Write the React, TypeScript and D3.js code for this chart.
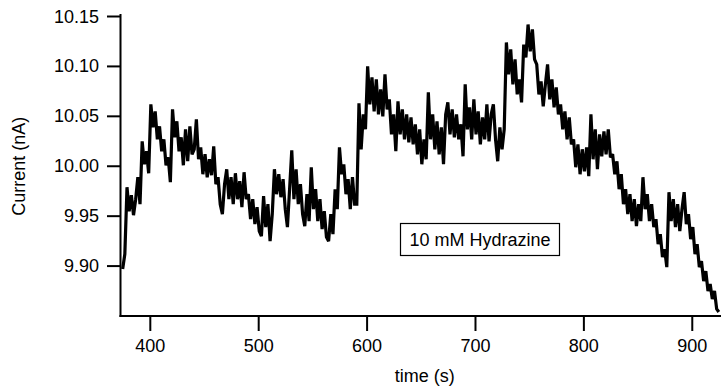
import React from "react";
import * as d3 from "d3";

// Amperometric trace: sampled every DT seconds starting at T0 (wave scaling)
const T0 = 374.5;
const DT = 2;

// Current in nA
const current: number[] = [
  9.897, 9.912, 9.979, 9.955, 9.971, 9.951, 9.967, 9.989, 9.962, 10.025,
  10.002, 10.015, 9.993, 10.062, 10.039, 10.055, 10.027, 10.040, 10.015, 10.027,
  10.001, 10.009, 9.984, 10.057, 10.029, 10.045, 10.015, 10.029, 10.001, 10.037,
  10.005, 10.040, 10.012, 10.017, 10.047, 10.007, 10.019, 9.992, 10.012, 9.989,
  10.007, 9.991, 10.020, 9.982, 9.989, 9.962, 9.952, 9.982, 9.997, 9.967,
  9.989, 9.962, 9.993, 9.967, 9.985, 9.959, 9.994, 9.967, 9.972, 9.947,
  9.967, 9.942, 9.959, 9.935, 9.930, 9.970, 9.939, 9.962, 9.925, 9.952,
  9.997, 9.972, 9.992, 9.969, 9.987, 9.957, 9.939, 9.977, 10.016, 9.967,
  9.997, 9.962, 9.982, 9.952, 9.940, 9.972, 9.945, 9.999, 9.957, 9.977,
  9.945, 9.967, 9.937, 9.955, 9.929, 9.925, 9.952, 9.932, 9.977, 9.957,
  10.019, 9.992, 10.002, 9.972, 9.987, 9.957, 9.989, 9.962, 9.962, 10.063,
  10.017, 10.052, 10.037, 10.100, 10.062, 10.089, 10.055, 10.087, 10.052, 10.077,
  10.050, 10.092, 10.057, 10.067, 10.032, 10.052, 10.015, 10.065, 10.032, 10.057,
  10.027, 10.052, 10.024, 10.049, 10.022, 10.042, 10.012, 10.037, 10.002, 10.027,
  10.007, 10.074, 10.027, 10.052, 10.017, 10.045, 10.012, 10.039, 10.002, 10.052,
  10.064, 10.032, 10.057, 10.029, 10.052, 10.027, 10.042, 10.010, 10.082, 10.037,
  10.059, 10.027, 10.067, 10.032, 10.055, 10.022, 10.049, 10.027, 10.062, 10.025,
  10.052, 10.062, 10.027, 10.005, 10.039, 10.017, 10.037, 10.124, 10.092, 10.117,
  10.082, 10.107, 10.072, 10.087, 10.064, 10.122, 10.109, 10.142, 10.115, 10.137,
  10.107, 10.102, 10.072, 10.085, 10.060, 10.082, 10.102, 10.067, 10.087, 10.059,
  10.079, 10.052, 10.062, 10.037, 10.055, 10.027, 10.049, 10.022, 10.027, 9.999,
  10.022, 9.992, 10.017, 9.995, 10.019, 9.990, 10.052, 10.007, 10.037, 9.997,
  10.032, 10.010, 10.035, 10.012, 10.037, 10.009, 10.012, 9.992, 10.005, 9.977,
  9.992, 9.962, 9.977, 9.952, 9.972, 9.945, 9.967, 9.940, 9.962, 9.945,
  9.989, 9.957, 9.972, 9.945, 9.962, 9.939, 9.947, 9.922, 9.932, 9.909,
  9.917, 9.899, 9.974, 9.945, 9.967, 9.939, 9.962, 9.935, 9.957, 9.974,
  9.942, 9.952, 9.927, 9.939, 9.912, 9.922, 9.899, 9.905, 9.885, 9.895,
  9.875, 9.882, 9.867, 9.875, 9.857, 9.854,
];

const xTicks = [400, 500, 600, 700, 800, 900];
const yTicks = [9.9, 9.95, 10.0, 10.05, 10.1, 10.15];
const xDomain: [number, number] = [372.5, 926.5];
const yDomain: [number, number] = [9.85, 10.15];
const xTitle = "time (s)";
const yTitle = "Current (nA)";
const annotation = "10 mM Hydrazine";

const W = 721;
const H = 389;
const FONT = "'Liberation Sans', Arial, Helvetica, sans-serif";

export default function App() {
  const left = 120.5;
  const right = 721;
  const bottom = 316;
  const top = 16.5;

  const x = d3.scaleLinear().domain(xDomain).range([left, right]);
  const y = d3.scaleLinear().domain(yDomain).range([bottom, top]);

  const line = d3
    .line<number>()
    .x((_, i) => x(T0 + i * DT))
    .y((d) => y(d));

  const fmtY = d3.format(".2f");

  return (
    <svg
      width={W}
      height={H}
      viewBox={`0 0 ${W} ${H}`}
      style={{ position: "absolute", left: 0, top: 0, background: "#fff" }}
      fontFamily={FONT}
    >
      <rect x={0} y={0} width={W} height={H} fill="#fff" />

      {/* trace: thick stroke so the dense sampling reads as a solid noisy band */}
      <path
        d={line(current) ?? ""}
        fill="none"
        stroke="#000"
        strokeWidth={3.2}
        strokeLinejoin="miter"
        strokeMiterlimit={2}
      />

      {/* left axis */}
      <line x1={left} x2={left} y1={14} y2={bottom + 1} stroke="#000" strokeWidth={2} />
      {yTicks.map((t) => (
        <g key={t}>
          <line x1={107} x2={left} y1={y(t)} y2={y(t)} stroke="#000" strokeWidth={2} />
          <text
            x={99}
            y={y(t)}
            textAnchor="end"
            dominantBaseline="central"
            fontSize={18}
            fill="#000"
          >
            {fmtY(t)}
          </text>
        </g>
      ))}
      <text
        transform={`translate(19, ${(top + bottom) / 2}) rotate(-90)`}
        textAnchor="middle"
        dominantBaseline="central"
        fontSize={18}
        fill="#000"
      >
        {yTitle}
      </text>

      {/* bottom axis */}
      <line x1={left - 1} x2={right} y1={bottom} y2={bottom} stroke="#000" strokeWidth={2} />
      {xTicks.map((t) => (
        <g key={t}>
          <line x1={x(t)} x2={x(t)} y1={bottom} y2={331} stroke="#000" strokeWidth={2} />
          <text
            x={x(t)}
            y={346}
            textAnchor="middle"
            dominantBaseline="central"
            fontSize={18}
            fill="#000"
          >
            {t}
          </text>
        </g>
      ))}
      <text
        x={(left + right) / 2 + 4}
        y={375.5}
        textAnchor="middle"
        dominantBaseline="central"
        fontSize={18}
        fill="#000"
      >
        {xTitle}
      </text>

      {/* annotation box */}
      <rect x={400.5} y={223.5} width={159} height={32} fill="#fff" stroke="#000" strokeWidth={1.2} />
      <text
        x={480}
        y={240}
        textAnchor="middle"
        dominantBaseline="central"
        fontSize={18}
        fill="#000"
      >
        {annotation}
      </text>
    </svg>
  );
}
